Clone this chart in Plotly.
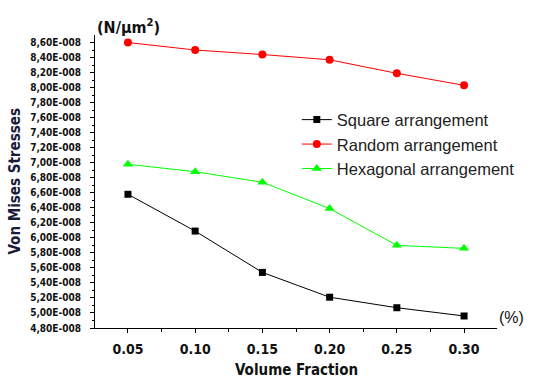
import plotly.graph_objects as go

volume_fraction = [0.05, 0.10, 0.15, 0.20, 0.25, 0.30]
square = [6.58e-8, 6.09e-8, 5.54e-8, 5.21e-8, 5.07e-8, 4.96e-8]
random_arr = [8.60e-8, 8.50e-8, 8.44e-8, 8.37e-8, 8.19e-8, 8.03e-8]
hexagonal = [6.98e-8, 6.88e-8, 6.74e-8, 6.39e-8, 5.90e-8, 5.86e-8]

y_tick_vals = [4.8e-8 + 0.2e-8 * i for i in range(20)]
y_tick_text = [("%.2fE-008" % (v * 1e8)).replace(".", ",") for v in y_tick_vals]
x_tick_vals = volume_fraction
x_tick_text = ["0.05", "0.10", "0.15", "0.20", "0.25", "0.30"]

fig = go.Figure()
fig.add_trace(go.Scatter(x=volume_fraction, y=square, mode="lines+markers",
                         name="Square arrangement",
                         line=dict(color="black", width=1),
                         marker=dict(symbol="square", size=7, color="black")))
fig.add_trace(go.Scatter(x=volume_fraction, y=random_arr, mode="lines+markers",
                         name="Random arrangement",
                         line=dict(color="#ff0000", width=1),
                         marker=dict(symbol="circle", size=8, color="#ff0000")))
fig.add_trace(go.Scatter(x=volume_fraction, y=hexagonal, mode="lines+markers",
                         name="Hexagonal arrangement",
                         line=dict(color="#00ff00", width=1),
                         marker=dict(symbol="triangle-up", size=9, color="#00ff00")))

fig.update_layout(
    width=536, height=385,
    margin=dict(l=95, r=39, t=35, b=57),
    plot_bgcolor="white", paper_bgcolor="white",
    font=dict(family="DejaVu Sans Condensed, Arial", color="black"),
    showlegend=True,
    legend=dict(x=0.502, y=0.77, xanchor="left", yanchor="top",
                bgcolor="rgba(0,0,0,0)", tracegroupgap=0,
                font=dict(family="Liberation Sans, Arial", size=16.5, color="#222222")),
    xaxis=dict(range=[0.0255, 0.3245], tickvals=x_tick_vals, ticktext=x_tick_text,
               automargin=False,
               showgrid=False, zeroline=False, showline=True, linecolor="black",
               linewidth=1, ticks="outside", ticklen=4, tickcolor="black",
               ticklabelstandoff=4,
               tickfont=dict(family="DejaVu Sans Condensed", size=14, color="#111111",
                             weight="bold"),
               minor=dict(tickvals=[0.075, 0.125, 0.175, 0.225, 0.275, 0.325],
                          ticks="outside", ticklen=3, tickcolor="black")),
    yaxis=dict(range=[4.8e-8, 8.7e-8], tickvals=y_tick_vals, ticktext=y_tick_text,
               automargin=False,
               showgrid=False, zeroline=False, showline=True, linecolor="black",
               linewidth=1, ticks="outside", ticklen=4, tickcolor="black",
               ticklabelstandoff=7,
               tickfont=dict(family="DejaVu Sans Condensed", size=10, color="#111111",
                             weight="bold"),
               minor=dict(tickvals=[4.9e-8 + 0.2e-8 * i for i in range(19)],
                          ticks="outside", ticklen=2, tickcolor="black")),
)

# axis titles placed as annotations relative to the plot area
fig.add_annotation(text="Volume Fraction", xref="paper", yref="paper",
                   x=0.5, y=0.0, xanchor="center", yanchor="middle", showarrow=False,
                   yshift=-42,
                   font=dict(family="DejaVu Sans Condensed", size=15, color="#111111",
                             weight="bold"))
fig.add_annotation(text="Von Mises Stresses", xref="paper", yref="paper",
                   x=0.0, y=0.5, xanchor="center", yanchor="middle", showarrow=False,
                   xshift=-81, textangle=-90,
                   font=dict(family="DejaVu Sans Condensed", size=15, color="#1a1a3a",
                             weight="bold"))
fig.add_annotation(text="(N/μm<sup>2</sup>)", xref="paper", yref="paper",
                   x=0.0, y=1.0, xanchor="left", yanchor="bottom", showarrow=False,
                   xshift=0, yshift=-4,
                   font=dict(family="DejaVu Sans Condensed", size=16, color="#111111",
                             weight="bold"))
fig.add_annotation(text="(%)", xref="paper", yref="paper",
                   x=1.0, y=0.0, xanchor="left", yanchor="bottom", showarrow=False,
                   xshift=0, yshift=0,
                   font=dict(family="Liberation Sans", size=16, color="#111111"))

fig.write_html("out.html", post_script="document.body.style.margin='0px';",
               config={"displayModeBar": False})
